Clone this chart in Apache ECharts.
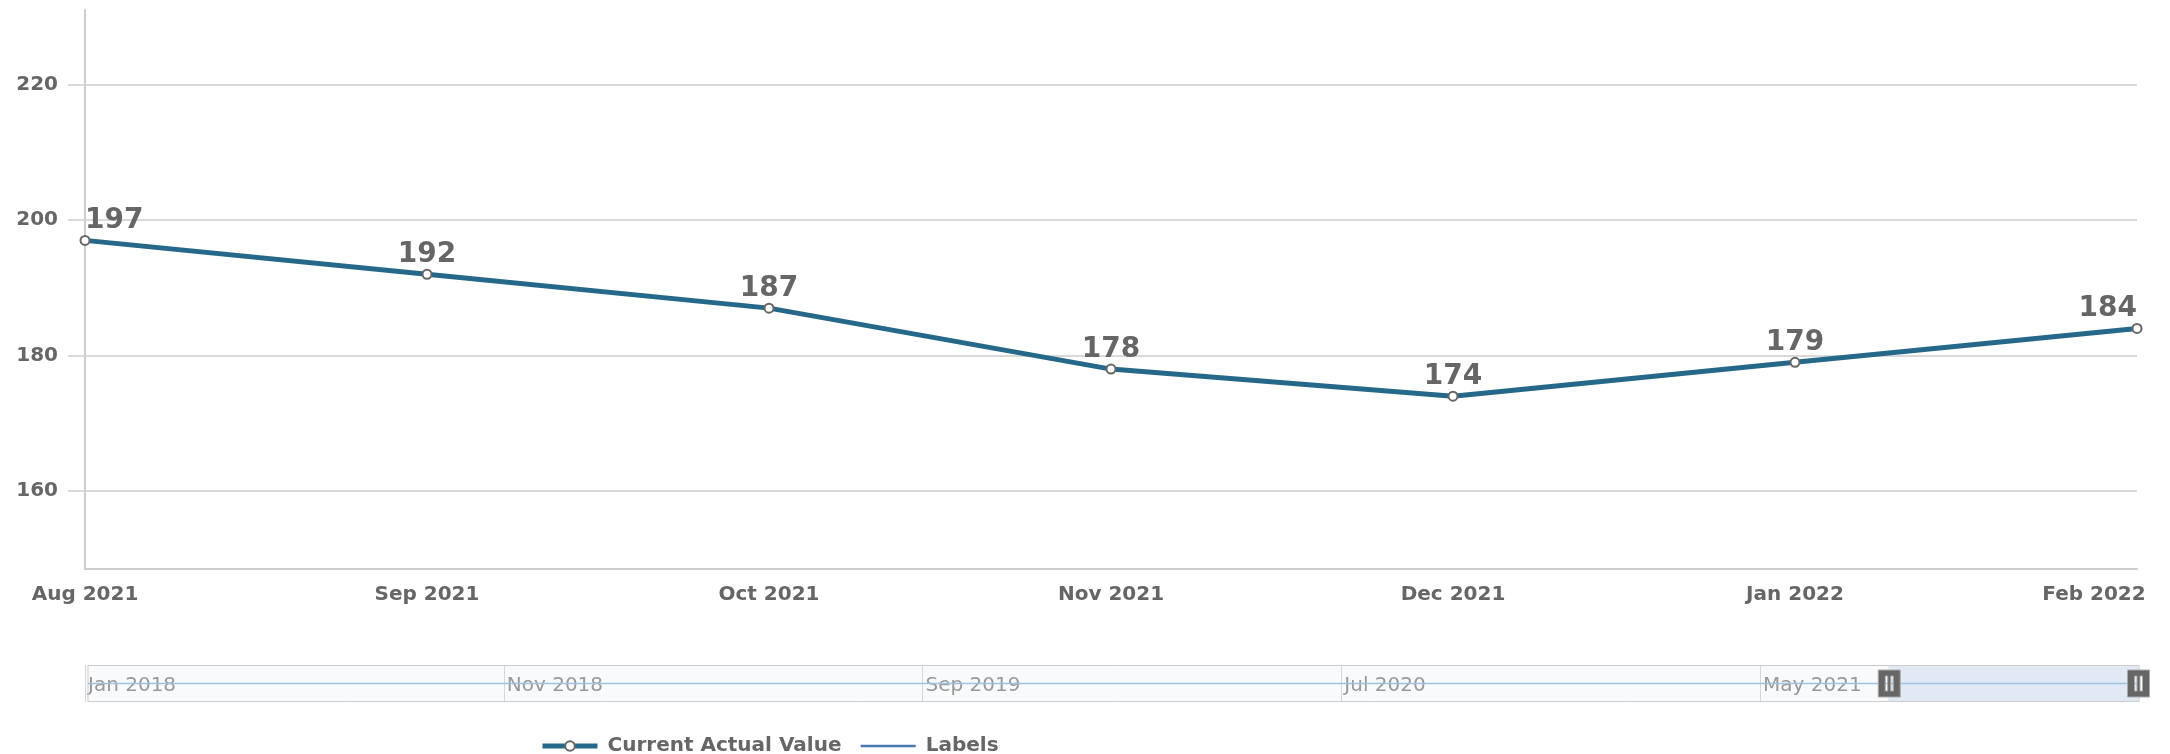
<!DOCTYPE html>
<html>
<head>
<meta charset="utf-8">
<script src="https://cdn.jsdelivr.net/npm/echarts@6/dist/echarts.min.js"></script>
<style>
  html, body { margin: 0; padding: 0; background: #ffffff; }
  #chart { width: 2170px; height: 754px; }
</style>
</head>
<body>
<div id="chart"></div>
<script>
// Full month range covered by the navigator
const allMonths = [
  'Jan 2018', 'Feb 2018', 'Mar 2018', 'Apr 2018', 'May 2018', 'Jun 2018',
  'Jul 2018', 'Aug 2018', 'Sep 2018', 'Oct 2018', 'Nov 2018', 'Dec 2018',
  'Jan 2019', 'Feb 2019', 'Mar 2019', 'Apr 2019', 'May 2019', 'Jun 2019',
  'Jul 2019', 'Aug 2019', 'Sep 2019', 'Oct 2019', 'Nov 2019', 'Dec 2019',
  'Jan 2020', 'Feb 2020', 'Mar 2020', 'Apr 2020', 'May 2020', 'Jun 2020',
  'Jul 2020', 'Aug 2020', 'Sep 2020', 'Oct 2020', 'Nov 2020', 'Dec 2020',
  'Jan 2021', 'Feb 2021', 'Mar 2021', 'Apr 2021', 'May 2021', 'Jun 2021',
  'Jul 2021', 'Aug 2021', 'Sep 2021', 'Oct 2021', 'Nov 2021', 'Dec 2021',
  'Jan 2022', 'Feb 2022'
];

// Months in the zoomed window and their values
const shownMonths = ['Aug 2021', 'Sep 2021', 'Oct 2021', 'Nov 2021', 'Dec 2021', 'Jan 2022', 'Feb 2022'];
const actualValues = [197, 192, 187, 178, 174, 179, 184];

// "Labels" series: flat baseline over the whole range
const labelValues = [
  0, 0, 0, 0, 0, 0, 0, 0, 0, 0, 0, 0,
  0, 0, 0, 0, 0, 0, 0, 0, 0, 0, 0, 0,
  0, 0, 0, 0, 0, 0, 0, 0, 0, 0, 0, 0,
  0, 0, 0, 0, 0, 0, 0, 0, 0, 0, 0, 0,
  0, 0
];

// Value axis ticks
const yTicks = [160, 180, 200, 220];
const yMin = 148.5;
const yMax = 231;

const FONT = "'DejaVu Sans', sans-serif";
const TEXT = '#666666';
const GRID_LINE = '#d9d9d9';
const ACTUAL_COLOR = '#25688a';
const LABELS_COLOR = '#4a78b0';

const startIdx = allMonths.indexOf(shownMonths[0]);
const endIdx = allMonths.indexOf(shownMonths[shownMonths.length - 1]);

const actualData = allMonths.map(function (m) {
  const i = shownMonths.indexOf(m);
  if (i < 0) return null;
  const item = { value: actualValues[i] };
  if (i === 0) item.label = { align: 'left' };
  if (i === shownMonths.length - 1) item.label = { align: 'right' };
  return item;
});

const chart = echarts.init(document.getElementById('chart'), null, { renderer: 'canvas' });

chart.setOption({
  animation: false,
  backgroundColor: '#ffffff',
  textStyle: { fontFamily: FONT },
  grid: [
    { left: 85, right: 33, top: 10, height: 559, containLabel: false },
    { left: 85, right: 33, top: 665, height: 37, show: true, backgroundColor: '#f9fafc', borderWidth: 0 }
  ],
  xAxis: [
    {
      type: 'category',
      gridIndex: 0,
      data: allMonths,
      boundaryGap: false,
      axisLine: { show: true, lineStyle: { color: '#cccccc', width: 2 } },
      axisTick: { show: false },
      splitLine: { show: false },
      axisLabel: {
        interval: 0,
        margin: 16,
        color: TEXT,
        fontFamily: FONT,
        fontWeight: 'bold',
        fontSize: 20,
        formatter: function (value) {
          return value === shownMonths[shownMonths.length - 1] ? '{last|' + value + '}' : value;
        },
        rich: {
          last: { color: TEXT, fontFamily: FONT, fontWeight: 'bold', fontSize: 20, padding: [0, 86, 0, 0] }
        }
      }
    },
    {
      type: 'category',
      gridIndex: 1,
      data: allMonths,
      boundaryGap: false,
      axisLine: { show: false },
      axisTick: { show: false },
      splitLine: { show: true, interval: 9, lineStyle: { color: '#d4d8de', width: 1 } },
      axisLabel: {
        inside: true,
        interval: 9,
        align: 'left',
        margin: 6,
        padding: [0, 0, 0, 3],
        color: '#999999',
        fontFamily: FONT,
        fontSize: 20
      }
    }
  ],
  yAxis: [
    {
      type: 'value',
      gridIndex: 0,
      min: yMin,
      max: yMax,
      axisLine: { show: true, lineStyle: { color: '#cccccc', width: 2 } },
      axisTick: { show: true, inside: false, length: 17, lineStyle: { color: GRID_LINE, width: 2 }, customValues: yTicks },
      splitLine: { show: true, lineStyle: { color: GRID_LINE, width: 2 } },
      axisLabel: {
        customValues: yTicks,
        margin: 27,
        color: TEXT,
        fontFamily: FONT,
        fontWeight: 'bold',
        fontSize: 20
      }
    },
    { type: 'value', gridIndex: 1, show: false }
  ],
  dataZoom: [{
    type: 'slider',
    xAxisIndex: 0,
    filterMode: 'filter',
    startValue: startIdx,
    endValue: endIdx,
    left: 85,
    right: 33,
    top: 665,
    height: 37,
    backgroundColor: 'transparent',
    borderColor: '#cccccc',
    borderRadius: 0,
    fillerColor: 'rgba(168,196,224,0.3)',
    showDetail: false,
    brushSelect: false,
    moveHandleSize: 0,
    handleIcon: 'path://M0,0 L22,0 L22,27 L0,27 Z M7,6 L7,21 L9.5,21 L9.5,6 Z M12.5,6 L12.5,21 L15,21 L15,6 Z',
    handleSize: 27,
    handleStyle: { color: '#666666', borderColor: '#aaaaaa', borderWidth: 1 },
    emphasis: { handleStyle: { color: '#666666', borderColor: '#aaaaaa', borderWidth: 1 } },
    dataBackground: {
      lineStyle: { color: '#9fc2df', width: 1.5, opacity: 1 },
      areaStyle: { opacity: 0 }
    },
    selectedDataBackground: {
      lineStyle: { color: '#9fc2df', width: 1.5, opacity: 1 },
      areaStyle: { opacity: 0 }
    }
  }],
  legend: {
    data: [
      {
        name: 'Current Actual Value',
        lineStyle: { color: ACTUAL_COLOR, width: 5 },
        itemStyle: { color: '#ffffff', borderColor: '#666666', borderWidth: 2 }
      },
      {
        name: 'Labels',
        lineStyle: { color: LABELS_COLOR, width: 2.5 },
        itemStyle: { opacity: 0 }
      }
    ],
    left: 535,
    top: 731,
    itemWidth: 55,
    itemHeight: 12,
    itemGap: 18,
    textStyle: { color: TEXT, fontFamily: FONT, fontWeight: 'bold', fontSize: 20, padding: [0, 0, 0, 5] },
    selectedMode: false
  },
  series: [
    {
      name: 'Labels',
      type: 'line',
      xAxisIndex: 0,
      yAxisIndex: 0,
      data: labelValues,
      symbol: 'none',
      showSymbol: false,
      clip: true,
      silent: true,
      lineStyle: { color: LABELS_COLOR, width: 2.5 },
      itemStyle: { color: LABELS_COLOR }
    },
    {
      name: 'Current Actual Value',
      type: 'line',
      xAxisIndex: 0,
      yAxisIndex: 0,
      data: actualData,
      symbol: 'circle',
      symbolSize: 9,
      showAllSymbol: true,
      connectNulls: false,
      lineStyle: { color: ACTUAL_COLOR, width: 5 },
      itemStyle: { color: '#ffffff', borderColor: '#666666', borderWidth: 2 },
      label: {
        show: true,
        position: 'top',
        distance: 0,
        color: TEXT,
        fontFamily: FONT,
        fontWeight: 'bold',
        fontSize: 28
      },
      z: 3
    }
  ]
});
</script>
</body>
</html>
